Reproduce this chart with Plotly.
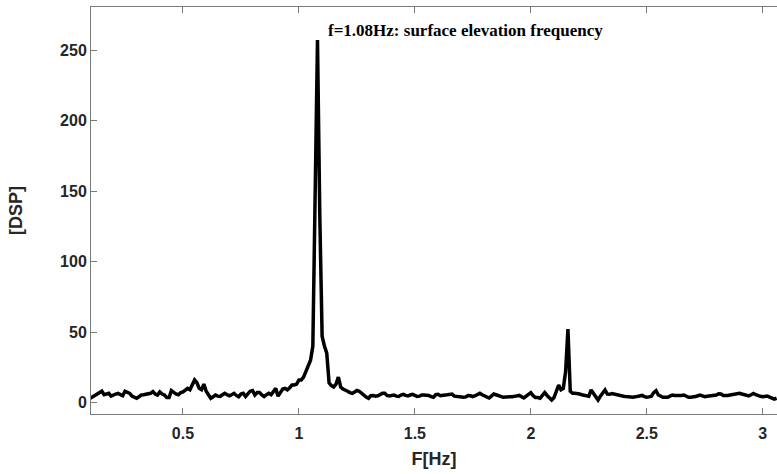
import numpy as np
import plotly.graph_objects as go

# Frequency axis: uniform 0.01 Hz bins from 0.10 to 3.06 Hz
f_start = 0.10
f_step = 0.01

dsp_values = [
    # 0.10 - 0.19
    3, 4, 5.5, 6.5, 7.5, 8, 5.5, 6, 6.5, 4.5,
    # 0.20 - 0.29
    5.5, 6, 6.5, 5.5, 4.8, 8, 7, 6.5, 4.5, 3.5,
    # 0.30 - 0.39
    3, 4, 5.3, 5.5, 6, 6.3, 6.5, 7.7, 6, 5.3,
    # 0.40 - 0.49
    7.5, 6, 5.3, 3.5, 3.5, 8.5, 7, 6, 5.5, 7,
    # 0.50 - 0.59
    7.5, 9, 10, 9, 12, 16, 14, 10, 9, 13,
    # 0.60 - 0.69
    8, 5, 3, 4, 5.3, 4.5, 4.3, 5.5, 6.5, 5.5,
    # 0.70 - 0.79
    4.8, 5.5, 6.5, 5, 4.1, 6, 6.5, 4.3, 6.3, 8,
    # 0.80 - 0.89
    8.5, 5.3, 7, 7, 5.3, 4.2, 5.5, 6.5, 5.5, 7.5,
    # 0.90 - 0.99
    10, 4.5, 7, 9.5, 10, 9, 10.5, 12.4, 12.4, 13,
    # 1.00 - 1.09
    16, 16, 18, 22, 25, 30, 40, 155, 257, 132,
    # 1.10 - 1.19
    47, 40, 35, 14, 12, 11, 13, 18, 11, 9.5,
    # 1.20 - 1.29
    8.9, 8, 7, 6.5, 7.5, 8.5, 8, 6.5, 5, 3.8,
    # 1.30 - 1.39
    3, 4.8, 5, 4.5, 4.8, 6, 6.5, 6.5, 5, 4.6,
    # 1.40 - 1.49
    5, 5.3, 4.5, 4.3, 5.3, 5.8, 5, 4.6, 5.3, 5.8,
    # 1.50 - 1.59
    5, 4.3, 4.5, 5.3, 5.3, 5.3, 5, 4.2, 3.7, 5.5,
    # 1.60 - 1.69
    5.8, 4.8, 4.8, 5.3, 5.5, 6, 6, 4.5, 4.2, 3.8,
    # 1.70 - 1.79
    3.7, 3.7, 4, 5, 4.8, 4.2, 4.8, 6, 6.5, 5.5,
    # 1.80 - 1.89
    4.8, 4, 3.2, 4.5, 6, 5.5, 4.6, 4.3, 3.8, 3.7,
    # 1.90 - 1.99
    3.9, 4.1, 4.1, 4.1, 4.7, 5, 4, 3.2, 4.5, 6,
    # 2.00 - 2.09
    7, 4.8, 3.5, 3.5, 3, 5, 7, 5, 3, 1.8,
    # 2.10 - 2.19
    3.5, 8, 12.4, 9, 10, 22, 52, 8, 6.5, 6.5,
    # 2.20 - 2.29
    6.5, 6, 5.5, 5, 4.5, 4.5, 8.9, 6.5, 5, 1.8,
    # 2.30 - 2.39
    4.5, 6.5, 8.9, 6, 5.8, 6.3, 5.8, 5.3, 5, 4.6,
    # 2.40 - 2.49
    4.4, 4.2, 4, 3.7, 3.8, 4, 4.5, 5, 5, 4.2,
    # 2.50 - 2.59
    3.7, 4, 4.5, 7, 8.4, 5.3, 4.5, 3.7, 3.7, 3.7,
    # 2.60 - 2.69
    4.5, 5.3, 5, 4.8, 4.6, 5, 5.3, 4.5, 3.7, 3.7,
    # 2.70 - 2.79
    3.7, 4.2, 4.8, 5.3, 4.7, 4.1, 4.4, 4.6, 4.6, 4.6,
    # 2.80 - 2.89
    5.3, 6.2, 6, 5, 4.7, 5, 5.3, 5.6, 5.8, 6.2,
    # 2.90 - 2.99
    6.5, 6, 5.4, 5, 4.7, 5.5, 6.4, 5.5, 4.7, 4.4,
    # 3.00 - 3.06
    4.1, 4.3, 4.6, 3.8, 2.8, 2.4, 3,
]

freq = np.round(f_start + f_step * np.arange(len(dsp_values)), 4)

x_ticks = [0.5, 1, 1.5, 2, 2.5, 3]
x_tick_labels = ["0.5", "1", "1.5", "2", "2.5", "3"]
y_ticks = [0, 50, 100, 150, 200, 250]
y_tick_labels = ["0", "50", "100", "150", "200", "250"]

annotation_text = "f=1.08Hz: surface elevation frequency"

axis_grey = "#262626"
line_grey = "#7a7a7a"

fig = go.Figure()
fig.add_trace(go.Scatter(
    x=freq, y=dsp_values, mode="lines",
    line=dict(color="black", width=3.5),
    showlegend=False, hoverinfo="skip",
))

fig.add_annotation(
    x=1.72, y=264, xref="x", yref="y",
    text="<b>" + annotation_text + "</b>",
    showarrow=False,
    font=dict(family="Liberation Serif, Times New Roman, serif", size=17, color="black"),
    xanchor="center", yanchor="middle",
)

fig.update_layout(
    width=777, height=474,
    margin=dict(l=91, r=0, t=7, b=60),
    paper_bgcolor="white", plot_bgcolor="white",
    font=dict(family="Liberation Sans, Arial, sans-serif", color=axis_grey),
)

fig.update_xaxes(
    range=[0.1033, 3.0616],
    tickmode="array", tickvals=x_ticks, ticktext=x_tick_labels,
    ticks="inside", ticklen=6, tickcolor=line_grey, tickwidth=1,
    showline=True, linecolor=line_grey, linewidth=1, mirror="ticks",
    showgrid=False, zeroline=False,
    ticklabelstandoff=5,
    tickfont=dict(size=16, color=axis_grey, family="Liberation Sans, Arial, sans-serif", weight="bold"),
    title=dict(text="<b>F[Hz]</b>", font=dict(size=18, color=axis_grey), standoff=11),
)
fig.update_yaxes(
    range=[-8.16, 280.5],
    tickmode="array", tickvals=y_ticks, ticktext=y_tick_labels,
    ticks="inside", ticklen=6, tickcolor=line_grey, tickwidth=1,
    showline=True, linecolor=line_grey, linewidth=1, mirror=False,
    showgrid=False, zeroline=False,
    ticklabelstandoff=0,
    tickfont=dict(size=16, color=axis_grey, family="Liberation Sans, Arial, sans-serif", weight="bold"),
    title=dict(text="<b>[DSP]</b>", font=dict(size=18, color=axis_grey), standoff=32),
)

fig.write_html("out.html")
